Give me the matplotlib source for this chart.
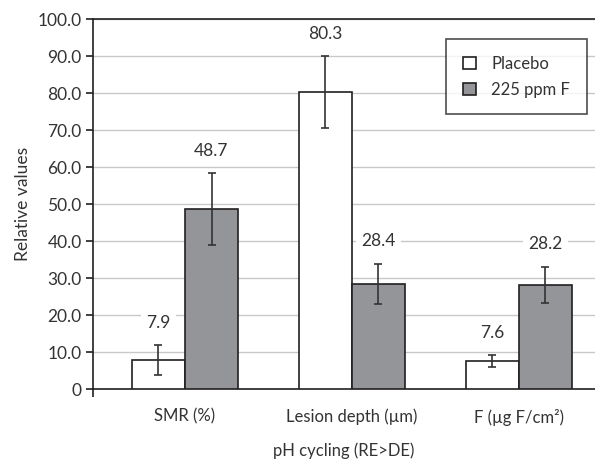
import numpy as np
import matplotlib
matplotlib.use("Agg")
import matplotlib.pyplot as plt

categories = ["SMR (%)", "Lesion depth (\u00b5m)", "F (\u00b5g F/cm\u00b2)"]
series_names = ["Placebo", "225 ppm F"]
placebo = [7.9, 80.3, 7.6]
placebo_err = [4.0, 9.6, 1.6]
fluoride = [48.7, 28.4, 28.2]
fluoride_err = [9.7, 5.5, 4.9]

plt.rcParams["font.family"] = ["Lato", "DejaVu Sans"]
txt = "#333333"

fig = plt.figure(figsize=(5.95, 4.66), dpi=100)
ax = fig.add_axes([0.156, 0.165, 0.844, 0.794])

x = np.arange(len(categories))
w = 0.318
ekw = dict(ecolor="#333333", elinewidth=1.2, capsize=3, capthick=1.2)
ax.bar(x - w / 2, placebo, w, yerr=placebo_err, color="white",
       edgecolor="#231f20", linewidth=1.2, label=series_names[0], error_kw=ekw, zorder=3)
ax.bar(x + w / 2, fluoride, w, yerr=fluoride_err, color="#939598",
       edgecolor="#231f20", linewidth=1.2, label=series_names[1], error_kw=ekw, zorder=3)

# value labels above the error bars, masking the grid
for xs, vals, errs in [(x - w / 2, placebo, placebo_err), (x + w / 2, fluoride, fluoride_err)]:
    for xi, v, e in zip(xs, vals, errs):
        ax.text(xi, v + e + 6, f"{v:.1f}", ha="center", va="center", fontsize=12.5,
                color=txt, zorder=4,
                bbox=dict(facecolor="white", edgecolor="none", pad=4))

ax.set_xlim(-0.552, 2.456)
ax.set_ylim(0, 100)
ax.set_yticks(np.arange(0, 101, 10))
ax.set_yticklabels(["0"] + [f"{v:.1f}" for v in np.arange(10, 101, 10)])
ax.yaxis.grid(True, color="#c8c8c8", linewidth=1.0, zorder=0)
ax.set_axisbelow(True)

ax.set_xticks(x)
ax.set_xticklabels(categories)
ax.tick_params(axis="x", length=0, pad=14, labelsize=12, labelcolor=txt)
ax.tick_params(axis="y", length=5, width=1.2, color="#231f20", labelsize=12.5, labelcolor=txt, pad=3)
ax.set_xticks([-0.552], minor=True)
ax.tick_params(axis="x", which="minor", length=6, width=1.2, color="#231f20", direction="out")

for s in ["left", "bottom", "top"]:
    ax.spines[s].set_color("#231f20")
    ax.spines[s].set_linewidth(1.2)
ax.spines["right"].set_visible(False)

ax.set_ylabel("Relative values", fontsize=12.5, color=txt, labelpad=5)
ax.set_xlabel("pH cycling (RE>DE)", fontsize=12, color=txt, labelpad=12)

leg = ax.legend(loc="upper right", bbox_to_anchor=(0.984, 0.946), fontsize=12,
                frameon=True, fancybox=False, edgecolor="#231f20",
                handlelength=0.8, handleheight=0.8, borderpad=1.0, labelspacing=0.6,
                handletextpad=0.9, borderaxespad=0)
leg.get_frame().set_linewidth(1.2)
for t in leg.get_texts():
    t.set_color(txt)

fig.savefig("out.png", dpi=100)
